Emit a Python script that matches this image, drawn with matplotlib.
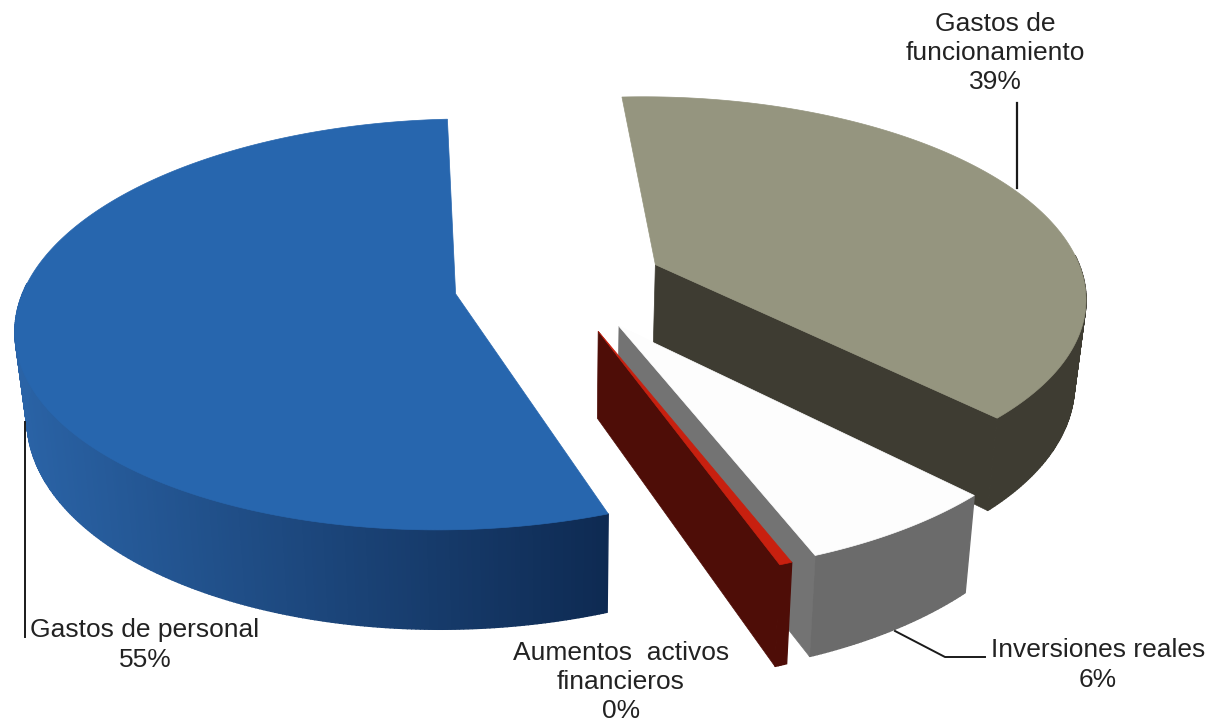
import numpy as np
import matplotlib
matplotlib.use('Agg')
import matplotlib.pyplot as plt
from matplotlib.patches import Polygon
from matplotlib.colors import to_rgb

# slices, clockwise from the top of the pie
categories = ['Gastos de\nfuncionamiento', 'Inversiones reales',
              'Aumentos  activos\nfinancieros', 'Gastos de personal']
values = [38.6, 6.45, 0.4, 54.55]
percent_labels = ['39%', '6%', '0%', '55%']

top_colors = ['#95957f', '#fdfdfd', '#c8200f', '#2766ae']
rim_colors = ['#3e3c32', '#6b6b6b', '#4e0d07', None]
end_colors = ['#3e3c32', '#737373', '#4e0d07', None]
blue_left = '#2a63a6'
blue_right = '#0e2a52'

# 3d pie view, in pixels of the output
cx, cy = 560, 284
rx, ry = 430, 198
tilt = 0.148        # perspective along the depth of the disc
shrink = 0.022      # perspective going down the wall
wall = 84
explode = 0.246
start_angle = -3.3


def project(u, v, down=0.0):
    x = cx + rx * u / (1 + tilt * v) * (1 - shrink * down)
    y = cy + (-ry * v + wall * down) / (1 + tilt * v)
    return x, y


def disc_point(angle, radius, off):
    a = np.radians(angle)
    return off[0] + radius * np.sin(a), off[1] + radius * np.cos(a)


fig = plt.figure(figsize=(12.11, 7.24), dpi=100)
ax = fig.add_axes([0, 0, 1, 1])
ax.set_xlim(0, 1211)
ax.set_ylim(724, 0)
ax.axis('off')

sweeps = np.array(values) / sum(values) * 360
starts = start_angle + np.concatenate([[0], np.cumsum(sweeps)[:-1]])
c1, c2 = np.array(to_rgb(blue_left)), np.array(to_rgb(blue_right))

for i in [0, 3, 1, 2]:
    a0, a1 = starts[i], starts[i] + sweeps[i]
    mid = np.radians((a0 + a1) / 2)
    off = (explode * np.sin(mid), explode * np.cos(mid))
    angles = np.linspace(a0, a1, int(sweeps[i]) * 2 + 3)
    u, v = disc_point(angles, 1.0, off)
    tx, ty = project(u, v)
    bx, by = project(u, v, 1.0)
    ax0, ay0 = project(off[0], off[1])
    ax1, ay1 = project(off[0], off[1], 1.0)

    # outer wall, only the part facing the viewer
    for j in range(len(angles) - 1):
        if np.cos(np.radians(angles[j])) > 0.05:
            continue
        quad = [(tx[j], ty[j]), (tx[j + 1], ty[j + 1]), (bx[j + 1], by[j + 1]), (bx[j], by[j])]
        if rim_colors[i] is None:
            t = np.clip(((tx[j] + tx[j + 1]) / 2 - 14) / (608 - 14), 0, 1)
            col = c1 + (c2 - c1) * t
        else:
            col = rim_colors[i]
        ax.add_patch(Polygon(quad, closed=True, fc=col, ec=col, lw=1.0))

    # cut face at the clockwise end
    if end_colors[i] is not None:
        ax.add_patch(Polygon([(ax0, ay0), (tx[-1], ty[-1]), (bx[-1], by[-1]), (ax1, ay1)],
                             closed=True, fc=end_colors[i], ec=end_colors[i], lw=0.5))

    # top face
    pts = [(ax0, ay0)] + list(zip(tx, ty))
    ax.add_patch(Polygon(pts, closed=True, fc=top_colors[i], ec=top_colors[i], lw=0.5))

# leader lines
ax.plot([1017, 1017], [103, 188], color='#1a1a1a', lw=1.6)
ax.plot([25, 25], [422, 637], color='#1a1a1a', lw=1.4)
ax.plot([895, 945, 985], [631, 657, 657], color='#1a1a1a', lw=1.4)

# data labels
label_pos = [(995, 53), (1098, 665), (621, 682), (145, 645)]
for name, pct, (lx, ly) in zip(categories, percent_labels, label_pos):
    ax.text(lx, ly, name + '\n' + pct, ha='center', va='center', multialignment='center',
            fontsize=19, family='Liberation Sans', color='#222222', linespacing=1.28)

fig.savefig('out.png', dpi=100)
